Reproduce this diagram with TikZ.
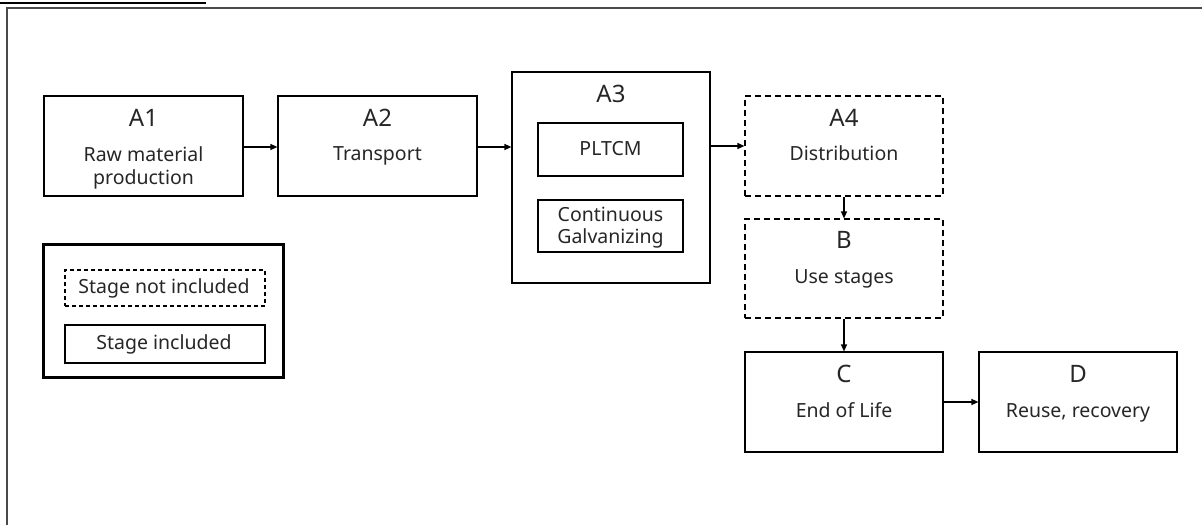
\documentclass[tikz,border=0pt]{standalone}
\usepackage{fontspec}
\setmainfont{Noto Sans}
\usetikzlibrary{arrows.meta}
\definecolor{txt}{HTML}{262626}
\definecolor{frame}{HTML}{4A4A4A}
\tikzset{
  stagebox/.style={draw=black, line width=1.2pt, rectangle, inner sep=0pt},
  notbox/.style={stagebox, dash pattern=on 6pt off 4pt},
  legnot/.style={stagebox, dash pattern=on 4pt off 3pt},
  legframe/.style={draw=black, line width=3pt, rectangle, inner sep=0pt},
  lbl/.style={anchor=base, inner sep=0pt, text=txt, font=\fontsize{24}{28}\selectfont},
  txtl/.style={anchor=base, inner sep=0pt, text=txt, font=\fontsize{19.5}{23}\selectfont},
  arr/.style={line width=1.2pt, -{Triangle[length=7pt,width=6pt]}}
}
\begin{document}
\begin{tikzpicture}[x=1pt,y=-1pt]
\useasboundingbox (0,0) rectangle (1202,525);
% outer frame and top rule
\draw[frame, line width=2pt] (1202,8) -- (7,8) -- (7,525);
\draw[black, line width=2pt] (0,2.5) -- (206,2.5);
% boxes
\node[stagebox, minimum width=199pt, minimum height=100pt] (a1) at (143.5,146) {};
\node[stagebox, minimum width=199pt, minimum height=100pt] (a2) at (377.5,146) {};
\node[stagebox, minimum width=198pt, minimum height=211pt] (a3) at (611,177.5) {};
\node[stagebox, minimum width=145pt, minimum height=53pt] (pl) at (610.5,149.5) {};
\node[stagebox, minimum width=145pt, minimum height=52pt] (cg) at (610.5,226) {};
\node[notbox, minimum width=198pt, minimum height=100pt] (a4) at (844,146) {};
\node[notbox, minimum width=198pt, minimum height=99pt] (b) at (844,268.5) {};
\node[stagebox, minimum width=198pt, minimum height=100pt] (c) at (844,402) {};
\node[stagebox, minimum width=198pt, minimum height=100pt] (d) at (1078,402) {};
% legend
\node[legframe, minimum width=240pt, minimum height=133pt] (leg) at (163,310.5) {};
\node[legnot, minimum width=200pt, minimum height=36pt] (legn) at (165,288) {};
\node[stagebox, minimum width=200pt, minimum height=38pt] (legi) at (165,344) {};
% texts
\node[lbl] (a1l) at (143.5,126) {A1};
\node[txtl] (a1t1) at (143.5,161) {Raw material};
\node[txtl] (a1t2) at (143.5,184) {production};
\node[lbl] (a2l) at (377.5,126) {A2};
\node[txtl] (a2t) at (377.5,160) {Transport};
\node[lbl] (a3l) at (611,102) {A3};
\node[txtl] (plt) at (610.5,155) {PLTCM};
\node[txtl] (cgt1) at (610.5,221) {Continuous};
\node[txtl] (cgt2) at (610.5,243) {Galvanizing};
\node[lbl] (a4l) at (844,126) {A4};
\node[txtl] (a4t) at (844,160) {Distribution};
\node[lbl] (bl) at (844,248) {B};
\node[txtl] (bt) at (844,283) {Use stages};
\node[lbl] (cl) at (844,382) {C};
\node[txtl] (ct) at (844,417) {End of Life};
\node[lbl] (dl) at (1078,382) {D};
\node[txtl] (dt) at (1078,417) {Reuse, recovery};
\node[txtl] (legnt) at (164,293) {Stage not included};
\node[txtl] (legit) at (164,349) {Stage included};
% connectors
\draw[arr] ([yshift=-1pt]a1.east) -- ([yshift=-1pt]a2.west);
\draw[arr] ([yshift=-1pt]a2.east) -- ([yshift=-1pt]a2.east -| a3.west);
\draw[arr] (a4.west -| a3.east) -- (a4.west);
\draw[arr] (a4.south) -- (b.north);
\draw[arr] (b.south) -- (c.north);
\draw[arr] (c.east) -- (d.west);
\end{tikzpicture}
\end{document}
